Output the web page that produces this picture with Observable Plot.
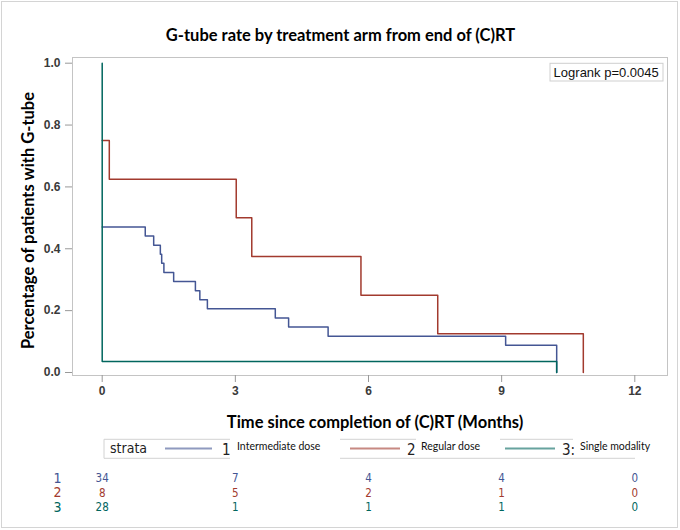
<!DOCTYPE html>
<html><head><meta charset="utf-8">
<script src="https://cdn.jsdelivr.net/npm/d3@7"></script>
<script src="https://cdn.jsdelivr.net/npm/@observablehq/plot@0.6"></script>
<style>
body{margin:0;background:#fff;}
#chart{width:680px;height:530px;position:relative;}
</style></head><body><div id="chart"></div>
<script>
// ---------- data ----------
const strata = ["1", "2", "3"];
const strataLabels = ["1", "2", "3:"];
const strataNames = ["Intermediate dose", "Regular dose", "Single modality"];
const colors = ["#445694", "#A23A2E", "#01665E"];

const time1 = [0, 0.97, 1.16, 1.31, 1.34, 1.39, 1.61, 2.10, 2.20, 2.37, 3.90, 4.20, 5.09, 9.09, 10.24];
const rate1 = [0.4706, 0.4412, 0.4118, 0.3824, 0.3529, 0.3235, 0.2941, 0.2647, 0.2353, 0.2059, 0.1765, 0.1471, 0.1176, 0.0882, 0];
const time2 = [0, 0.16, 3.02, 3.37, 5.83, 7.56, 10.84];
const rate2 = [0.75, 0.625, 0.5, 0.375, 0.25, 0.125, 0];
const time3 = [0, 0, 10.24];
const rate3 = [1.0, 0.0357, 0];

const xTicks = [0, 3, 6, 9, 12];
const yTicks = [0, 0.2, 0.4, 0.6, 0.8, 1.0];

const riskTimes = [0, 3, 6, 9, 12];
const risk1 = [34, 7, 4, 4, 0];
const risk2 = [8, 5, 2, 1, 0];
const risk3 = [28, 1, 1, 1, 0];

const titleText = "G-tube rate by treatment arm from end of (C)RT";
const xLabel = "Time since completion of (C)RT (Months)";
const yLabel = "Percentage of patients with G-tube";
const pvalText = "Logrank p=0.0045";
const legendTitle = "strata";

// ---------- build ----------
const curves = [[time1, rate1], [time2, rate2], [time3, rate3]];
const table = curves.flatMap(([t, r], i) => t.map((d, j) => ({strata: strata[i], time: d, rate: r[j]})));
const risks = [risk1, risk2, risk3];

const sans = "'Liberation Sans', Arial, sans-serif";
const narrow = "'Liberation Sans Narrow', 'DejaVu Sans Condensed', sans-serif";
const lato = "Lato, 'Open Sans', sans-serif";

const riskMarks = risks.flatMap((r, i) => [
  Plot.text(riskTimes, {x: d => d, text: (d, j) => String(r[j]), frameAnchor: "bottom", lineAnchor: "middle",
    dy: 103 + i * 14.5, fill: colors[i], fontSize: 11.5, fontFamily: narrow}),
  Plot.text([strata[i]], {frameAnchor: "bottom-left", textAnchor: "middle", lineAnchor: "middle",
    dx: -15, dy: 103 + i * 14.5, fill: colors[i], fontSize: 14, fontFamily: narrow})
]);

const plot = Plot.plot({
  width: 680, height: 530,
  marginTop: 57, marginBottom: 155, marginLeft: 72, marginRight: 13,
  style: {background: "#fff", fontFamily: sans, overflow: "visible"},
  x: {domain: [0, 12], range: [101.7, 634.3]},
  y: {domain: [0, 1], range: [372, 62.7]},
  color: {domain: strata, range: colors},
  marks: [
    Plot.frame({stroke: "#c4c4c4"}),
    Plot.axisX({ticks: xTicks, tickSize: 7, tickPadding: 4, fontSize: 12, fontWeight: "bold",
      stroke: "#999", fill: "#3a3a3a", label: null}),
    Plot.axisY({ticks: yTicks, tickFormat: ".1f", tickSize: 7, tickPadding: 5, fontSize: 12, fontWeight: "bold",
      stroke: "#999", fill: "#3a3a3a", label: null}),
    Plot.line(table, {x: "time", y: "rate", z: "strata", stroke: "strata", curve: "step-after", strokeWidth: 1.5}),
    Plot.text([titleText], {frameAnchor: "top", textAnchor: "middle", lineAnchor: "middle", dx: -29.5, dy: -22,
      fontSize: 16.5, fontWeight: "bold", fontFamily: lato, fill: "#000"}),
    Plot.text([yLabel], {frameAnchor: "left", textAnchor: "middle", lineAnchor: "middle", rotate: -90, dx: -44, dy: 4,
      fontSize: 16.5, fontWeight: "bold", fontFamily: lato, fill: "#000"}),
    Plot.text([xLabel], {frameAnchor: "bottom", textAnchor: "middle", lineAnchor: "middle", dx: 5, dy: 47,
      fontSize: 16.5, fontWeight: "bold", fontFamily: lato, fill: "#000"}),
    Plot.text([pvalText], {frameAnchor: "top-right", textAnchor: "end", lineAnchor: "middle", dx: -8.7, dy: 15.7,
      fontSize: 13, fontFamily: sans, fill: "#111"}),
    ...riskMarks
  ]
});

document.getElementById("chart").appendChild(plot);

// ---------- decorations (legend, boxes, border) ----------
const svg = d3.select(plot);
// p-value box under text
svg.insert("rect", ":first-child").attr("x", 550).attr("y", 63.3).attr("width", 113).attr("height", 17.7)
  .attr("fill", "#fff").attr("stroke", "#cfcfcf");
// outer border
svg.append("rect").attr("x", 1.5).attr("y", 1.5).attr("width", 676).attr("height", 526)
  .attr("fill", "none").attr("stroke", "#d4d4d4");

const lg = svg.append("g").attr("text-anchor", "start");
const ly = 448.5;
const boxSegs = [[104, 230, 439.3], [340, 416, 439.3], [500, 573, 439.3], [104, 230, 458.3], [340, 635, 458.3]];
boxSegs.forEach(([a, b, y]) => lg.append("line").attr("x1", a).attr("x2", b).attr("y1", y).attr("y2", y)
  .attr("stroke", "#d2d2d2"));
lg.append("line").attr("x1", 104).attr("x2", 104).attr("y1", 439.3).attr("y2", 458.3).attr("stroke", "#d2d2d2");
lg.append("text").attr("x", 110).attr("y", ly).attr("dy", "0.35em").attr("text-anchor", "start")
  .attr("font-family", narrow).attr("font-size", 14).attr("fill", "#222").text(legendTitle);
const lineStart = [165, 350, 505], lineEnd = [212, 400, 555], numX = [222, 407, 562], nameX = [237, 421, 580];
strata.forEach((s, i) => {
  lg.append("line").attr("x1", lineStart[i]).attr("x2", lineEnd[i]).attr("y1", ly).attr("y2", ly)
    .attr("stroke", colors[i]).attr("stroke-width", 2).attr("stroke-opacity", 0.6);
  lg.append("text").attr("x", numX[i]).attr("y", ly + 1).attr("dy", "0.35em").attr("text-anchor", "start")
    .attr("font-family", narrow).attr("font-size", 15).attr("fill", "#222").text(strataLabels[i]);
  lg.append("text").attr("x", nameX[i]).attr("y", ly - 2).attr("dy", "0.35em").attr("text-anchor", "start")
    .attr("font-family", lato).attr("font-size", 10.5).attr("fill", "#111").text(strataNames[i]);
});
</script></body></html>
